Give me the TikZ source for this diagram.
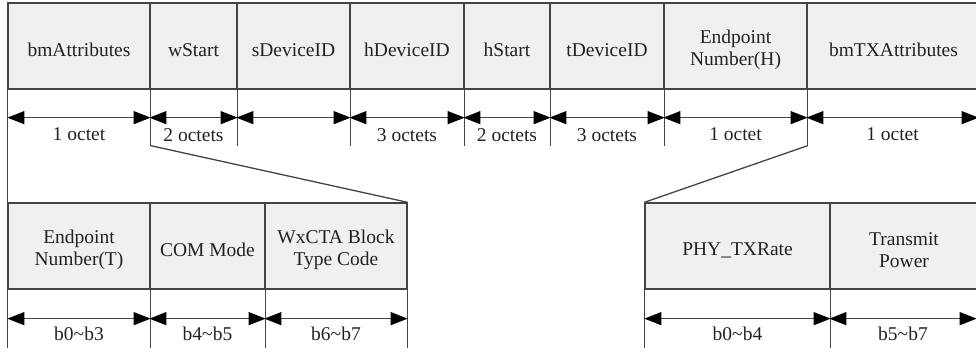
\documentclass[tikz,border=0pt]{standalone}
\usepackage{fontspec}
\setmainfont{Liberation Serif}
\usetikzlibrary{arrows.meta}
\definecolor{cellfill}{HTML}{F0F0F0}
\definecolor{linec}{HTML}{444444}
\definecolor{txtc}{HTML}{222222}
\tikzset{bigtip/.tip={Triangle[length=17pt,width=13pt,fill=black,color=black]}}
\begin{document}
\begin{tikzpicture}[x=1pt,y=-1pt,
  cell/.style={draw=linec, line width=1.3pt, fill=cellfill, minimum height=86pt,
    inner sep=0pt, align=center, text=txtc, font=\fontsize{19.5}{22}\selectfont,
    label={[celltext]center:#1}},
  celltext/.style={text=txtc, font=\fontsize{19.5}{22}\selectfont, align=center,
    inner sep=0pt, yshift=-4pt},
  divl/.style={draw=linec, line width=1.3pt},
  dimline/.style={draw=linec, line width=1.1pt, bigtip-bigtip},
  dimlab/.style={text=txtc, font=\fontsize{19.5}{22}\selectfont, inner sep=0pt}]
\useasboundingbox (0,0) rectangle (976,352);
% top row
\node[cell={bmAttributes}, minimum width=142pt] (c1) at (79,46) {};
\node[cell={wStart}, minimum width=87pt] (c2) at (193.5,46) {};
\node[cell={sDeviceID}, minimum width=113pt] (c3) at (293.5,46) {};
\node[cell={hDeviceID}, minimum width=114pt] (c4) at (407,46) {};
\node[cell={hStart}, minimum width=86pt] (c5) at (507,46) {};
\node[cell={tDeviceID}, minimum width=114pt] (c6) at (607,46) {};
\node[cell={Endpoint\\Number(H)}, minimum width=143pt] (c7) at (735.5,46) {};
\node[cell={bmTXAttributes}, minimum width=173pt] (c8) at (893.5,46) {};
% bottom left row
\node[cell={Endpoint\\Number(T)}, minimum width=142pt] (b1) at (79,246) {};
\node[cell={COM Mode}, minimum width=115pt] (b2) at (207.5,246) {};
\node[cell={WxCTA Block\\Type Code}, minimum width=142pt] (b3) at (336,246) {};
% bottom right row
\node[cell={PHY\_TXRate}, minimum width=185pt] (r1) at (737.5,246) {};
\node[cell={Transmit\\Power}, minimum width=148pt] (r2) at (904,246) {};
% dividers below top row
\draw[divl] (c1.south west) -- (b1.north west);
\foreach \n in {c1,c2,c3,c4,c5,c6,c7}{
  \draw[divl] (\n.south east) -- ++(0,56) coordinate (\n-end);
}
% dividers below bottom rows
\foreach \n in {b1,r1}{
  \draw[divl] (\n.south west) -- ++(0,58);
}
\foreach \n in {b1,b2,b3,r1}{
  \draw[divl] (\n.south east) -- ++(0,58);
}
% zoom lines
\draw[divl] (c1-end) -- (b3.north east);
\draw[divl] (c7-end) -- (r1.north west);
% dimension arrows, top row
\foreach \n/\t in {c1/1 octet, c2/2 octets, c3/, c4/3 octets, c5/2 octets, c6/3 octets, c7/1 octet}{
  \draw[dimline] ([yshift=-28pt]\n.south west) -- ([yshift=-28pt]\n.south east)
    node[dimlab, midway, yshift=-17pt] {\t};
}
\draw[dimline] ([yshift=-28pt]c8.south west) -- ([yshift=-28pt,xshift=-2pt]c8.south east)
    node[dimlab, midway, yshift=-17pt] {1 octet};
% dimension arrows, bottom rows
\foreach \n/\t in {b1/b0\textasciitilde b3, b2/b4\textasciitilde b5, b3/b6\textasciitilde b7, r1/b0\textasciitilde b4}{
  \draw[dimline] ([yshift=-29pt]\n.south west) -- ([yshift=-29pt]\n.south east)
    node[dimlab, midway, yshift=-15pt] {\t};
}
\draw[dimline] ([yshift=-29pt]r2.south west) -- ([yshift=-29pt,xshift=-2pt]r2.south east)
    node[dimlab, midway, yshift=-15pt] {b5\textasciitilde b7};
\end{tikzpicture}
\end{document}
